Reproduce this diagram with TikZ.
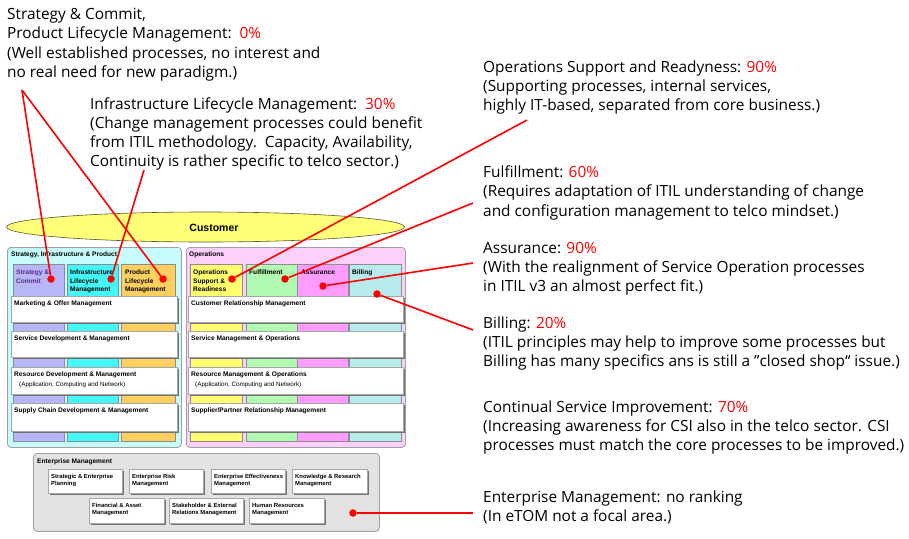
\documentclass[tikz,border=0pt]{standalone}
\usepackage{fontspec}
\setmainfont{Open Sans}
\newfontfamily\dfont{Liberation Sans}
\usetikzlibrary{shapes.geometric,shadows}
\definecolor{sipfill}{HTML}{C6FCFC}
\definecolor{opsfill}{HTML}{FCD0FC}
\definecolor{emfill}{HTML}{E2E2E2}
\definecolor{scfill}{HTML}{B6B6F8}
\definecolor{ilmfill}{HTML}{44F8F8}
\definecolor{plmfill}{HTML}{FFD060}
\definecolor{osrfill}{HTML}{FFFF70}
\definecolor{fulfill}{HTML}{B2FAB2}
\definecolor{assfill}{HTML}{FF9CFF}
\definecolor{bilfill}{HTML}{B8ECEC}
\definecolor{custfill}{HTML}{FFFF78}
\definecolor{panelline}{HTML}{A0A0A0}
\definecolor{scText}{HTML}{5A2D8C}
\newcommand\redpct[1]{\textcolor{red}{#1}}
\begin{document}
\begin{tikzpicture}[x=1pt,y=-1pt,
  panel/.style={draw=panelline, line width=0.8pt, rounded corners=3.5pt, anchor=north west, inner sep=0},
  colbox/.style={draw=black!45, line width=0.5pt, anchor=north west, inner sep=0, minimum height=177},
  wbox/.style={draw=black!35, line width=0.5pt, fill=white, anchor=north west, inner sep=0,
     drop shadow={shadow xshift=1.6pt, shadow yshift=-1.6pt, fill=black!55, opacity=1}},
  dlbl/.style={anchor=north west, inner sep=0, align=left, font=\dfont\bfseries\fontsize{6.6}{8.5}\selectfont},
  dsub/.style={anchor=north west, inner sep=0, align=left, font=\dfont\fontsize{6.3}{8}\selectfont},
  elbl/.style={anchor=north west, inner sep=0, align=left, font=\dfont\bfseries\fontsize{5.9}{7.3}\selectfont},
  txt/.style={anchor=north west, inner sep=0, align=left, font=\fontsize{15.4}{19.2}\selectfont},
  conn/.style={draw=red, line width=1.6pt},
  rdot/.style={circle, fill=red, inner sep=0, minimum size=7.5pt}]
\useasboundingbox (0,0) rectangle (909,538);
% ---------- panels ----------
\node[panel, fill=sipfill, minimum width=174, minimum height=200] (sip) at (7,247) {};
\node[panel, fill=opsfill, minimum width=219, minimum height=200] (ops) at (186,247) {};
\node[panel, fill=emfill, minimum width=346, minimum height=78] (em) at (33,453) {};
\node[dlbl] (siptitle) at (11,251) {\rule{0pt}{5.5pt}Strategy, Infrastructure \& Product};
\node[dlbl] (opstitle) at (189,251) {\rule{0pt}{5.5pt}Operations};
\node[dlbl] (emtitle) at (37,457.5) {\rule{0pt}{5.5pt}Enterprise Management};
% ---------- vertical columns ----------
\node[colbox, fill=scfill, minimum width=51] (csc) at (13,264) {};
\node[colbox, fill=ilmfill, minimum width=51] (cilm) at (67,264) {};
\node[colbox, fill=plmfill, minimum width=54] (cplm) at (121,264) {};
\node[colbox, fill=osrfill, minimum width=52] (cosr) at (190,264) {};
\node[colbox, fill=fulfill, minimum width=51] (cful) at (246,264) {};
\node[colbox, fill=assfill, minimum width=51] (cass) at (297,264) {};
\node[colbox, fill=bilfill, minimum width=52] (cbil) at (349,264) {};
\node[dlbl, text=scText] (lsc) at (16,269) {\rule{0pt}{5.5pt}Strategy \&\\Commit};
\node[dlbl] (lilm) at (70,269) {\rule{0pt}{5.5pt}Infrastructure\\Lifecycle\\Management};
\node[dlbl] (lplm) at (125,269) {\rule{0pt}{5.5pt}Product\\Lifecycle\\Management};
\node[dlbl] (losr) at (193,269) {\rule{0pt}{5.5pt}Operations\\Support \&\\Readiness};
\node[dlbl] (lful) at (249,269) {\rule{0pt}{5.5pt}Fulfillment};
\node[dlbl] (lass) at (301,269) {\rule{0pt}{5.5pt}Assurance};
\node[dlbl] (lbil) at (352,269) {\rule{0pt}{5.5pt}Billing};
% ---------- horizontal boxes, left ----------
\node[wbox, minimum width=166, minimum height=26] (mom) at (11,296) {};
\node[wbox, minimum width=166, minimum height=26] (sdm) at (11,331) {};
\node[wbox, minimum width=166, minimum height=27] (rdm) at (11,367) {};
\node[wbox, minimum width=166, minimum height=28] (scdm) at (11,403) {};
\node[dlbl] (tmom) at (14,299.5) {\rule{0pt}{5.5pt}Marketing \& Offer Management};
\node[dlbl] (tsdm) at (14,334.5) {\rule{0pt}{5.5pt}Service Development \& Management};
\node[dlbl] (trdm) at (14,370.5) {\rule{0pt}{5.5pt}Resource Development \& Management};
\node[dsub] (trdms) at (19,381) {\rule{0pt}{5.5pt}(Application, Computing and Network)};
\node[dlbl] (tscdm) at (14,406.5) {\rule{0pt}{5.5pt}Supply Chain Development \& Management};
% ---------- horizontal boxes, right ----------
\node[wbox, minimum width=215, minimum height=26] (crm) at (188,296) {};
\node[wbox, minimum width=215, minimum height=26] (smo) at (188,331) {};
\node[wbox, minimum width=215, minimum height=27] (rmo) at (188,367) {};
\node[wbox, minimum width=215, minimum height=28] (sprm) at (188,403) {};
\node[dlbl] (tcrm) at (191,299.5) {\rule{0pt}{5.5pt}Customer Relationship Management};
\node[dlbl] (tsmo) at (191,334.5) {\rule{0pt}{5.5pt}Service Management \& Operations};
\node[dlbl] (trmo) at (191,370.5) {\rule{0pt}{5.5pt}Resource Management \& Operations};
\node[dsub] (trmos) at (195,381) {\rule{0pt}{5.5pt}(Application, Computing and Network)};
\node[dlbl] (tsprm) at (191,406.5) {\rule{0pt}{5.5pt}Supplier/Partner Relationship Management};
% ---------- enterprise management boxes ----------
\node[wbox, minimum width=74, minimum height=24] (sep) at (48,469) {};
\node[wbox, minimum width=74, minimum height=24] (erm) at (129,469) {};
\node[wbox, minimum width=74, minimum height=24] (eem) at (211,469) {};
\node[wbox, minimum width=75, minimum height=24] (krm) at (292,469) {};
\node[wbox, minimum width=75, minimum height=25] (fam) at (89,498) {};
\node[wbox, minimum width=74, minimum height=25] (serm) at (169,498) {};
\node[wbox, minimum width=75, minimum height=25] (hrm) at (249,498) {};
\node[elbl] (tsep) at (51,473) {\rule{0pt}{5pt}Strategic \& Enterprise\\Planning};
\node[elbl] (term) at (132,473) {\rule{0pt}{5pt}Enterprise Risk\\Management};
\node[elbl] (teem) at (214,473) {\rule{0pt}{5pt}Enterprise Effectiveness\\Management};
\node[elbl] (tkrm) at (295,473) {\rule{0pt}{5pt}Knowledge \& Research\\Management};
\node[elbl] (tfam) at (92,502) {\rule{0pt}{5pt}Financial \& Asset\\Management};
\node[elbl] (tserm) at (172,502) {\rule{0pt}{5pt}Stakeholder \& External\\Relations Management};
\node[elbl] (thrm) at (252,502) {\rule{0pt}{5pt}Human Resources\\Management};
% ---------- customer ----------
\node[ellipse, draw=black!50!olive, line width=0.6pt, fill=custfill, minimum width=398, minimum height=30, inner sep=0] (cust) at (205.5,227) {};
\node[inner sep=0, font=\dfont\bfseries\fontsize{10.5}{12}\selectfont] (custlbl) at (214,227.5) {Customer};
% ---------- annotation texts ----------
\node[txt] (t1) at (7,6.5) {\rule{0pt}{13pt}Strategy \& Commit,\\Product Lifecycle Management:\, \redpct{0\%}\\(Well established processes, no interest and\\no real need for new paradigm.)};
\node[txt] (t2) at (90,96) {\rule{0pt}{13pt}Infrastructure Lifecycle Management:\, \redpct{30\%}\\(Change management processes could benefit\\from ITIL methodology.\, Capacity, Availability,\\Continuity is rather specific to telco sector.)};
\node[txt] (t3) at (483,59) {\rule{0pt}{13pt}Operations Support and Readyness: \redpct{90\%}\\(Supporting processes, internal services,\\highly IT-based, separated from core business.)};
\node[txt] (t4) at (483,164.5) {\rule{0pt}{13pt}Fulfillment: \redpct{60\%}\\(Requires adaptation of ITIL understanding of change\\and configuration management to telco mindset.)};
\node[txt] (t5) at (483,240) {\rule{0pt}{13pt}Assurance: \redpct{90\%}\\(With the realignment of Service Operation processes\\in ITIL v3 an almost perfect fit.)};
\node[txt] (t6) at (483,315) {\rule{0pt}{13pt}Billing: \redpct{20\%}\\(ITIL principles may help to improve some processes but\\Billing has many specifics ans is still a ”closed shop“ issue.)};
\node[txt] (t7) at (483,399) {\rule{0pt}{13pt}Continual Service Improvement: \redpct{70\%}\\(Increasing awareness for CSI also in the telco sector. CSI\\processes must match the core processes to be improved.)};
\node[txt] (t8) at (483,489) {\rule{0pt}{13pt}Enterprise Management: no ranking\\(In eTOM not a focal area.)};
% ---------- connector end points ----------
\coordinate (apex) at (22,90);
\coordinate (ilmend) at (144,170);
\coordinate (osrend) at (527,120);
\coordinate (fulend) at (473,203);
\coordinate (assend) at (473,263);
\coordinate (bilend) at (473,330);
\coordinate (emend) at (473,513);
% ---------- dots ----------
\node[rdot] (dsc) at (51,279) {};
\node[rdot] (dilm) at (111,279) {};
\node[rdot] (dplm) at (163,279) {};
\node[rdot] (dosr) at (232,279) {};
\node[rdot] (dful) at (285,279) {};
\node[rdot] (dass) at (323,286) {};
\node[rdot] (dbil) at (377,294) {};
\node[rdot] (dem) at (353,513) {};
% ---------- connectors ----------
\draw[conn] (apex) -- (dsc);
\draw[conn] (apex) -- (dplm);
\draw[conn] (ilmend) -- (dilm);
\draw[conn] (osrend) -- (dosr);
\draw[conn] (fulend) -- (dful);
\draw[conn] (assend) -- (dass);
\draw[conn] (bilend) -- (dbil);
\draw[conn] (emend) -- (dem);
\end{tikzpicture}
\end{document}
